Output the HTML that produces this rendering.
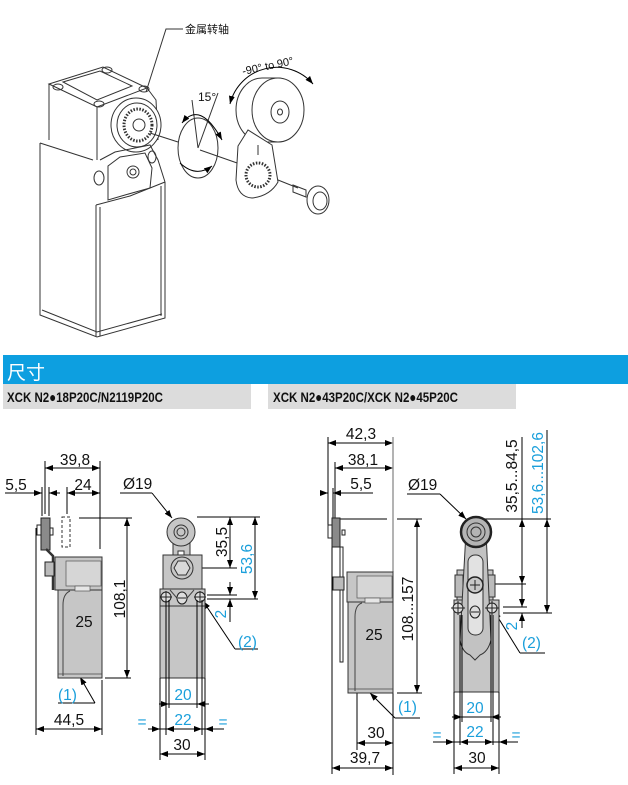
<!DOCTYPE html>
<html><head><meta charset="utf-8"><style>
html,body{margin:0;padding:0;background:#fff;}
svg{display:block;}
.d{stroke:#000;stroke-width:1;fill:none;}
.t{font-family:"Liberation Sans",sans-serif;font-size:15.5px;fill:#111;}
.b{font-family:"Liberation Sans",sans-serif;font-size:15.5px;fill:#1a9fdb;}
.il{stroke:#333;stroke-width:1;fill:none;}
.g{fill:#c6c6c6;stroke:#333;stroke-width:1;}
</style></head><body>
<svg width="628" height="785" viewBox="0 0 628 785" xmlns="http://www.w3.org/2000/svg">
<defs>
<marker id="a" viewBox="0 0 8 6" refX="8" refY="3" markerWidth="8" markerHeight="6" markerUnits="userSpaceOnUse" orient="auto-start-reverse"><path d="M0,0L8,3L0,6z" fill="#000"/></marker>
</defs>
<rect width="628" height="785" fill="#fff"/>

<!-- ============ TOP ILLUSTRATION ============ -->
<text x="185" y="33" style="font-family:'Liberation Sans','Noto Sans CJK SC',sans-serif;font-size:11px;fill:#111">金属转轴</text>
<path class="il" d="M183,29 L166,29 L146,92"/>
<path class="il" d="M40,143 L40,315 L97,337 L165,318 L165,182"/>
<path class="il" d="M42,310 L97,332 L162,314"/>
<path class="il" d="M96,205 L96,337 M100,207 L100,336 M161,186 L161,316"/>
<path class="il" d="M40,143 L93,160"/>
<path class="il" d="M96,205 L130,196 L165,182"/>
<path class="il" d="M49,84 L49,140 M97,107 L97,160 M49,84 L97,107 L147,88 L103,67 Z"/>
<path class="il" d="M63,82 L100,71 L132,86 L97,100 Z"/>
<ellipse class="il" cx="58" cy="87" rx="5" ry="3"/>
<ellipse class="il" cx="99" cy="104" rx="5" ry="3"/>
<ellipse class="il" cx="107" cy="70" rx="5" ry="3"/>
<ellipse class="il" cx="144" cy="89" rx="5" ry="3"/>
<path class="il" d="M147,88 L156,100 L158,140"/>
<ellipse cx="136" cy="125" rx="25" ry="27" fill="#fff" stroke="#333"/>
<ellipse class="il" cx="137" cy="125" rx="20" ry="22"/>
<ellipse cx="138" cy="125" rx="14" ry="16" fill="none" stroke="#333" stroke-width="3" stroke-dasharray="1.5 1.5"/>
<circle class="il" cx="139" cy="125" r="6"/>
<path class="il" d="M100,160 L115,152 L150,145 L158,160 L165,182"/>
<path class="il" d="M108,166 L120,157 L145,153 L152,168 L150,188 L125,195 L108,200 Z"/>
<circle class="il" cx="133" cy="172" r="6"/><circle class="il" cx="133" cy="172" r="3"/>
<ellipse class="il" cx="99" cy="178" rx="5" ry="7"/>
<ellipse class="il" cx="152" cy="157" rx="4" ry="6"/>
<path class="il" d="M150,133 L178,142 M200,150 L240,164 M268,176 L298,188"/>
<ellipse class="il" cx="198" cy="148" rx="20" ry="30"/>
<path class="il" d="M198,148 L192,100 M198,148 L218,93"/>
<text x="198" y="101" style="font-family:'Liberation Sans',sans-serif;font-size:12px;fill:#111">15°</text>
<path class="d" d="M182,123 Q200,100 222,140" marker-start="url(#a)" marker-end="url(#a)"/>
<path class="d" d="M180,163 Q196,178 212,166" marker-end="url(#a)"/>
<text transform="translate(243,75) rotate(-12)" style="font-family:'Liberation Sans',sans-serif;font-size:11px;fill:#111">-90° to 90°</text>
<path class="d" d="M230,104 A48,48 0 0 1 313,84" marker-start="url(#a)" marker-end="url(#a)"/>
<path d="M262,78 L277,78 A26,32 0 0 1 277,142 L262,142 A26,32 0 0 1 262,78 Z" fill="#fff" stroke="#333"/>
<ellipse cx="278" cy="110" rx="26" ry="32" fill="#fff" stroke="#333"/>
<ellipse class="il" cx="280" cy="112" rx="9" ry="11"/>
<ellipse class="il" cx="280" cy="112" rx="2.5" ry="3"/>
<path d="M248,130 L238,146 L236,180 Q238,197 252,198 Q270,196 278,182 L272,145 Z" fill="#fff" stroke="#333"/>
<circle cx="258" cy="175" r="12" fill="none" stroke="#333" stroke-width="3" stroke-dasharray="1.5 1.5"/>
<path class="il" d="M258,145 L258,155"/>
<path class="il" d="M293,185 L306,190 L306,197 L293,192 Z"/>
<ellipse cx="318" cy="200" rx="11" ry="14" fill="#fff" stroke="#333"/>
<ellipse class="il" cx="320" cy="201" rx="7" ry="9"/>

<!-- ============ HEADER ============ -->
<rect x="3" y="355" width="625" height="29" fill="#0d9fe0"/>
<text x="7" y="379" style="font-family:'Liberation Sans','Noto Sans CJK SC',sans-serif;font-size:19px;fill:#fff">尺寸</text>
<rect x="3" y="384" width="248" height="25" fill="#dcdcdc"/>
<rect x="268" y="384" width="248" height="25" fill="#dcdcdc"/>
<text x="7" y="402" textLength="156" lengthAdjust="spacingAndGlyphs" style="font-family:'Liberation Sans',sans-serif;font-size:14px;font-weight:bold;fill:#111">XCK N2●18P20C/N2119P20C</text>
<text x="273" y="402" textLength="185" lengthAdjust="spacingAndGlyphs" style="font-family:'Liberation Sans',sans-serif;font-size:14px;font-weight:bold;fill:#111">XCK N2●43P20C/XCK N2●45P20C</text>

<!-- ============ LEFT SIDE VIEW ============ -->
<g class="d">
<line x1="45" y1="468" x2="100" y2="468" marker-start="url(#a)" marker-end="url(#a)"/>
<line x1="45" y1="461" x2="45" y2="514"/>
<line x1="100" y1="461" x2="100" y2="549"/>
<line x1="5" y1="493" x2="42" y2="493" marker-end="url(#a)"/>
<line x1="49" y1="493" x2="60" y2="493" marker-start="url(#a)"/>
<line x1="42" y1="487" x2="42" y2="516"/>
<line x1="49" y1="487" x2="49" y2="516"/>
<line x1="67" y1="493" x2="100" y2="493" marker-start="url(#a)" marker-end="url(#a)"/>
<line x1="67" y1="487" x2="67" y2="514"/>
<line x1="79" y1="518" x2="132" y2="518"/>
<line x1="127" y1="518" x2="127" y2="678" marker-start="url(#a)" marker-end="url(#a)"/>
<line x1="105" y1="678" x2="131" y2="678"/>
<line x1="67" y1="631" x2="102" y2="631" marker-start="url(#a)" marker-end="url(#a)"/>
<line x1="36" y1="528" x2="36" y2="735"/>
<line x1="102" y1="680" x2="102" y2="735"/>
<line x1="36" y1="729" x2="102" y2="729" marker-start="url(#a)" marker-end="url(#a)"/>
<line x1="58" y1="703" x2="95" y2="703"/>
<line x1="95" y1="703" x2="80" y2="677" marker-end="url(#a)"/>
</g>
<rect x="62" y="517" width="8" height="30" fill="none" stroke="#333" stroke-dasharray="3 2"/>
<rect x="41" y="518" width="9" height="32" fill="#8a8a8a" stroke="#222"/>
<rect x="37" y="525" width="4" height="10" fill="#fff" stroke="#222"/>
<rect x="50" y="528" width="3" height="7" fill="#fff" stroke="#222"/>
<path d="M46,549 L53,556 L53,590" fill="none" stroke="#333" stroke-width="2.5"/>
<rect x="45" y="562" width="9" height="14" fill="#bbb" stroke="#222"/>
<rect x="55" y="557" width="47" height="33" class="g"/>
<rect x="66" y="561" width="35" height="25" fill="#d6d6d6" stroke="#555" stroke-width="0.7"/>
<rect x="58" y="590" width="44" height="88" class="g"/>
<rect x="75" y="586" width="15" height="5" fill="#e6e6e6" stroke="#555" stroke-width="0.7"/>
<path d="M63,676 L63,605 Q63,594 70,591" fill="none" stroke="#444"/>
<line x1="58" y1="674" x2="102" y2="674" stroke="#444" stroke-width="0.7"/>
<text class="t" x="75" y="465" text-anchor="middle">39,8</text>
<text class="t" x="16" y="490" text-anchor="middle">5,5</text>
<text class="t" x="83" y="490" text-anchor="middle">24</text>
<text class="t" x="123" y="489">Ø19</text>
<text class="t" transform="translate(125,599) rotate(-90)" text-anchor="middle">108,1</text>
<text class="t" x="84" y="627" text-anchor="middle">25</text>
<text class="b" x="58" y="700">(1)</text>
<text class="t" x="69" y="725" text-anchor="middle">44,5</text>

<!-- ============ LEFT FRONT VIEW ============ -->
<g class="d">
<line x1="120" y1="493" x2="152" y2="493"/>
<line x1="152" y1="493" x2="172" y2="518" marker-end="url(#a)"/>
<line x1="197" y1="517" x2="260" y2="517"/>
<line x1="202" y1="568" x2="237" y2="568"/>
<line x1="207" y1="595" x2="237" y2="595"/>
<line x1="207" y1="599" x2="258" y2="599"/>
<line x1="230" y1="517" x2="230" y2="568" marker-start="url(#a)" marker-end="url(#a)"/>
<line x1="255" y1="517" x2="255" y2="599" marker-start="url(#a)" marker-end="url(#a)"/>
<line x1="230" y1="582" x2="230" y2="595" marker-end="url(#a)"/>
<line x1="230" y1="622" x2="230" y2="599" marker-end="url(#a)"/>
<line x1="235" y1="649" x2="258" y2="649"/>
<line x1="235" y1="649" x2="203" y2="601" marker-end="url(#a)"/>
</g>
<rect x="173" y="536" width="17" height="30" class="g"/>
<circle cx="181" cy="532" r="14" class="g"/>
<circle cx="181" cy="532" r="7" fill="none" stroke="#333"/>
<circle cx="181" cy="532" r="4" fill="none" stroke="#333"/>
<rect x="163" y="555" width="39" height="35" class="g"/>
<rect x="178" y="551" width="6" height="4" fill="#fff" stroke="#333"/>
<circle cx="182" cy="568" r="11" class="g"/>
<polygon points="190,568 186,575 178,575 174,568 178,561 186,561" fill="#d8d8d8" stroke="#333"/>
<path d="M160,589 L205,589 L205,606 L160,606 Z" class="g"/>
<path d="M170,590 L182,604 L194,590" fill="none" stroke="#444"/>
<circle cx="166" cy="597" r="5" fill="#ddd" stroke="#222"/>
<path d="M160,597 H172 M166,591 V603" stroke="#222"/>
<circle cx="200" cy="597" r="5" fill="#ddd" stroke="#222"/>
<path d="M194,597 H206 M200,591 V603" stroke="#222"/>
<ellipse cx="182" cy="598" rx="5" ry="6" fill="#ddd" stroke="#222"/>
<line x1="178" y1="598" x2="186" y2="598" stroke="#222"/>
<rect x="160" y="606" width="45" height="72" class="g"/>
<g class="d">
<line x1="166" y1="600" x2="166" y2="735"/>
<line x1="169" y1="600" x2="169" y2="708"/>
<line x1="197" y1="600" x2="197" y2="708"/>
<line x1="202" y1="600" x2="202" y2="735"/>
<line x1="160" y1="678" x2="160" y2="760"/>
<line x1="205" y1="678" x2="205" y2="760"/>
<line x1="159" y1="704" x2="209" y2="704"/>
<line x1="159" y1="704" x2="169" y2="704" marker-end="url(#a)"/>
<line x1="209" y1="704" x2="197" y2="704" marker-end="url(#a)"/>
<line x1="148" y1="729" x2="224" y2="729"/>
<line x1="150" y1="729" x2="160" y2="729" marker-end="url(#a)"/>
<line x1="176" y1="729" x2="166" y2="729" marker-end="url(#a)"/>
<line x1="192" y1="729" x2="202" y2="729" marker-end="url(#a)"/>
<line x1="215" y1="729" x2="205" y2="729" marker-end="url(#a)"/>
<line x1="160" y1="754" x2="205" y2="754" marker-start="url(#a)" marker-end="url(#a)"/>
</g>
<text class="t" transform="translate(227,542) rotate(-90)" text-anchor="middle">35,5</text>
<text class="b" transform="translate(252,559) rotate(-90)" text-anchor="middle">53,6</text>
<text class="b" transform="translate(226,614) rotate(-90)" text-anchor="middle">2</text>
<text class="b" x="238" y="647">(2)</text>
<text class="b" x="183" y="700" text-anchor="middle">20</text>
<text class="b" x="142" y="727" text-anchor="middle">=</text>
<text class="b" x="183" y="725" text-anchor="middle">22</text>
<text class="b" x="223" y="727" text-anchor="middle">=</text>
<text class="t" x="182" y="750" text-anchor="middle">30</text>

<!-- ============ RIGHT SIDE VIEW ============ -->
<g class="d">
<line x1="328" y1="443" x2="393" y2="443" marker-start="url(#a)" marker-end="url(#a)"/>
<line x1="328" y1="437" x2="328" y2="527"/>
<line x1="335" y1="468" x2="393" y2="468" marker-start="url(#a)" marker-end="url(#a)"/>
<line x1="335" y1="462" x2="335" y2="518"/>
<line x1="322" y1="493" x2="328" y2="493" marker-end="url(#a)"/>
<line x1="333" y1="493" x2="373" y2="493" marker-start="url(#a)"/>
<line x1="333" y1="488" x2="333" y2="518"/>
<line x1="340" y1="519" x2="387" y2="519"/>
<line x1="397" y1="519" x2="422" y2="519"/>
<line x1="417" y1="519" x2="417" y2="693" marker-start="url(#a)" marker-end="url(#a)"/>
<line x1="397" y1="693" x2="422" y2="693"/>
<line x1="332" y1="540" x2="332" y2="774"/>
<line x1="357" y1="644" x2="393" y2="644" marker-start="url(#a)" marker-end="url(#a)"/>
<line x1="357" y1="693" x2="357" y2="750"/>
<line x1="393" y1="693" x2="393" y2="775"/>
<line x1="357" y1="743" x2="393" y2="743" marker-start="url(#a)" marker-end="url(#a)"/>
<line x1="332" y1="768" x2="393" y2="768" marker-start="url(#a)" marker-end="url(#a)"/>
<line x1="395" y1="718" x2="420" y2="718"/>
<line x1="395" y1="718" x2="370" y2="693" marker-end="url(#a)"/>
</g>
<line x1="393" y1="437" x2="393" y2="572" stroke="#9a9a9a" stroke-width="1.5"/>
<rect x="332" y="518" width="8" height="29" fill="#8a8a8a" stroke="#222"/>
<rect x="328" y="525" width="4" height="13" fill="#fff" stroke="#222"/>
<rect x="342" y="530" width="3" height="5" fill="#fff" stroke="#222"/>
<rect x="340" y="547" width="3" height="115" fill="#fff" stroke="#222"/>
<rect x="333" y="577" width="11" height="13" fill="#bbb" stroke="#222"/>
<rect x="347" y="572" width="46" height="30" class="g"/>
<rect x="357" y="576" width="35" height="22" fill="#d6d6d6" stroke="#555" stroke-width="0.7"/>
<rect x="348" y="602" width="45" height="91" class="g"/>
<rect x="365" y="598" width="15" height="5" fill="#e6e6e6" stroke="#555" stroke-width="0.7"/>
<path d="M355,691 L355,617 Q355,605 362,603" fill="none" stroke="#444"/>
<line x1="348" y1="689" x2="393" y2="689" stroke="#444" stroke-width="0.7"/>
<text class="t" x="361" y="439" text-anchor="middle">42,3</text>
<text class="t" x="363" y="465" text-anchor="middle">38,1</text>
<text class="t" x="361" y="489" text-anchor="middle">5,5</text>
<text class="t" x="408" y="490">Ø19</text>
<text class="t" transform="translate(413,609) rotate(-90)" text-anchor="middle">108...157</text>
<text class="t" x="374" y="640" text-anchor="middle">25</text>
<text class="b" x="398" y="712">(1)</text>
<text class="t" x="376" y="738" text-anchor="middle">30</text>
<text class="t" x="365" y="763" text-anchor="middle">39,7</text>

<!-- ============ RIGHT FRONT VIEW ============ -->
<g class="d">
<line x1="407" y1="494" x2="440" y2="494"/>
<line x1="440" y1="494" x2="466" y2="519" marker-end="url(#a)"/>
<line x1="485" y1="519" x2="551" y2="519"/>
<line x1="483" y1="584" x2="526" y2="584"/>
<line x1="503" y1="607" x2="527" y2="607"/>
<line x1="503" y1="613" x2="552" y2="613"/>
<line x1="522" y1="437" x2="522" y2="519"/>
<line x1="522" y1="519" x2="522" y2="584" marker-start="url(#a)" marker-end="url(#a)"/>
<line x1="522" y1="584" x2="522" y2="607" marker-end="url(#a)"/>
<line x1="522" y1="628" x2="522" y2="613" marker-end="url(#a)"/>
<line x1="547" y1="430" x2="547" y2="519"/>
<line x1="547" y1="519" x2="547" y2="613" marker-start="url(#a)" marker-end="url(#a)"/>
<line x1="520" y1="653" x2="545" y2="653"/>
<line x1="520" y1="653" x2="494" y2="611" marker-end="url(#a)"/>
</g>
<rect x="457" y="570" width="36" height="32" class="g"/>
<rect x="455" y="575" width="8" height="22" fill="#bbb" stroke="#333"/>
<rect x="487" y="575" width="8" height="22" fill="#bbb" stroke="#333"/>
<rect x="454" y="600" width="45" height="92" class="g"/>
<path d="M466,532 L486,532 L491,640 Q488,652 480,655 L475,660 L470,655 Q462,652 460,640 Z" fill="#c2c2c2" stroke="#333"/>
<rect x="468" y="555" width="15" height="80" rx="7" fill="#e2e2e2" stroke="#333"/>
<circle cx="476" cy="532" r="15" fill="#b4b4b4" stroke="#222" stroke-width="2.5"/>
<circle cx="476" cy="532" r="9" fill="none" stroke="#333"/>
<circle cx="476" cy="532" r="5" fill="none" stroke="#333"/>
<circle cx="475" cy="585" r="8" fill="#c8c8c8" stroke="#222" stroke-width="1.5"/>
<path d="M470,585 H480 M475,580 V590" stroke="#222"/>
<ellipse cx="475" cy="612" rx="5" ry="6" fill="#ddd" stroke="#222"/>
<line x1="471" y1="612" x2="479" y2="612" stroke="#222"/>
<circle cx="458" cy="608" r="5" fill="#ddd" stroke="#222"/>
<path d="M451,608 H465 M458,601 V615" stroke="#222"/>
<circle cx="492" cy="608" r="5" fill="#ddd" stroke="#222"/>
<path d="M485,608 H499 M492,601 V615" stroke="#222"/>
<g class="d">
<line x1="460" y1="615" x2="460" y2="745"/>
<line x1="462" y1="615" x2="462" y2="722"/>
<line x1="491" y1="615" x2="491" y2="722"/>
<line x1="493" y1="615" x2="493" y2="745"/>
<line x1="454" y1="692" x2="454" y2="774"/>
<line x1="499" y1="692" x2="499" y2="774"/>
<line x1="452" y1="717" x2="501" y2="717"/>
<line x1="452" y1="717" x2="462" y2="717" marker-end="url(#a)"/>
<line x1="501" y1="717" x2="491" y2="717" marker-end="url(#a)"/>
<line x1="433" y1="742" x2="518" y2="742"/>
<line x1="442" y1="742" x2="454" y2="742" marker-end="url(#a)"/>
<line x1="470" y1="742" x2="460" y2="742" marker-end="url(#a)"/>
<line x1="483" y1="742" x2="493" y2="742" marker-end="url(#a)"/>
<line x1="510" y1="742" x2="499" y2="742" marker-end="url(#a)"/>
<line x1="454" y1="768" x2="499" y2="768" marker-start="url(#a)" marker-end="url(#a)"/>
</g>
<text class="t" transform="translate(517,476) rotate(-90)" text-anchor="middle">35,5...84,5</text>
<text class="b" transform="translate(543,473) rotate(-90)" text-anchor="middle">53,6...102,6</text>
<text class="b" transform="translate(517,626) rotate(-90)" text-anchor="middle">2</text>
<text class="b" x="522" y="648">(2)</text>
<text class="b" x="475" y="713" text-anchor="middle">20</text>
<text class="b" x="437" y="740" text-anchor="middle">=</text>
<text class="b" x="475" y="737" text-anchor="middle">22</text>
<text class="b" x="516" y="740" text-anchor="middle">=</text>
<text class="t" x="477" y="763" text-anchor="middle">30</text>
</svg>
</body></html>
